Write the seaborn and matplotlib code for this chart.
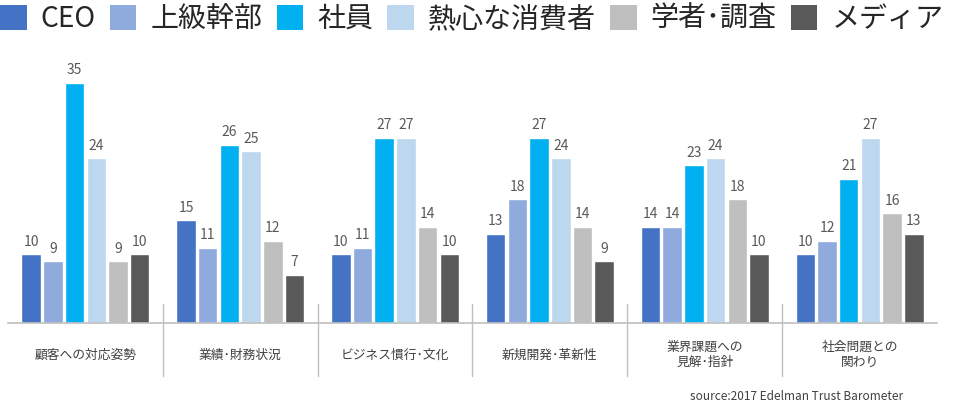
import numpy as np
import pandas as pd
import matplotlib.pyplot as plt
import matplotlib.patches as mpatches
import seaborn as sns

# ---- data ----
categories = ["顧客への対応姿勢", "業績･財務状況", "ビジネス慣行･文化",
              "新規開発･革新性", "業界課題への\n見解･指針", "社会問題との\n関わり"]
groups = ["CEO", "上級幹部", "社員", "熱心な消費者", "学者･調査", "メディア"]

ceo = [10, 15, 10, 13, 14, 10]
senior = [9, 11, 11, 18, 14, 12]
employee = [35, 26, 27, 27, 23, 21]
consumer = [24, 25, 27, 24, 24, 27]
academic = [9, 12, 14, 14, 18, 16]
media = [10, 7, 10, 9, 10, 13]

colors = ["#4472C4", "#8FAADC", "#00B0F0", "#BDD7EE", "#BFBFBF", "#595959"]

rows = []
for g, vals in zip(groups, [ceo, senior, employee, consumer, academic, media]):
    for c, v in zip(categories, vals):
        rows.append({"category": c, "group": g, "value": v})
df = pd.DataFrame(rows)

# ---- style ----
sns.set_theme(style="white")
plt.rcParams["font.family"] = ["Noto Sans CJK JP", "DejaVu Sans"]

fig = plt.figure(figsize=(9.72, 4.12), dpi=100)
ax = fig.add_axes([8 / 972, 0.216, 929 / 972, 0.633])

sns.barplot(data=df, x="category", y="value", hue="group", order=categories,
            hue_order=groups, palette=colors, saturation=1, width=0.84,
            gap=0.1, legend=False, ax=ax)

for cont in ax.containers:
    ax.bar_label(cont, padding=4, fontsize=10, color="#595959")

ax.set_xlim(-0.5, len(categories) - 0.5)
ax.set_ylim(0, 38)
ax.set_xlabel("")
ax.set_ylabel("")
ax.set_xticks([])
ax.set_yticks([])
for s in ["top", "left", "right"]:
    ax.spines[s].set_visible(False)
ax.spines["bottom"].set_color("#BFBFBF")
ax.spines["bottom"].set_linewidth(1.2)

# category labels and separators
trans = ax.get_xaxis_transform()
for i, c in enumerate(categories):
    ax.text(i, -0.123, c, transform=trans, ha="center", va="center",
            fontsize=9.2, color="#404040", linespacing=1.2)
for i in range(len(categories) - 1):
    ax.plot([i + 0.5, i + 0.5], [0.073, -0.203], transform=trans,
            color="#BFBFBF", lw=1, clip_on=False)

# legend
handles = [mpatches.Patch(facecolor=col, edgecolor="none", label=g)
           for g, col in zip(groups, colors)]
fig.legend(handles=handles, loc="upper left", bbox_to_anchor=(0.0, 0.99),
           ncol=6, frameon=False, fontsize=20.2, handlelength=0.95,
           handleheight=0.95, handletextpad=0.5, columnspacing=0.5,
           borderpad=0, borderaxespad=0)

fig.text(903 / 972, 1 - 396 / 412, "source:2017 Edelman Trust Barometer",
         ha="right", va="center", fontsize=8.5, color="#404040")

fig.savefig("out.png", dpi=100)
